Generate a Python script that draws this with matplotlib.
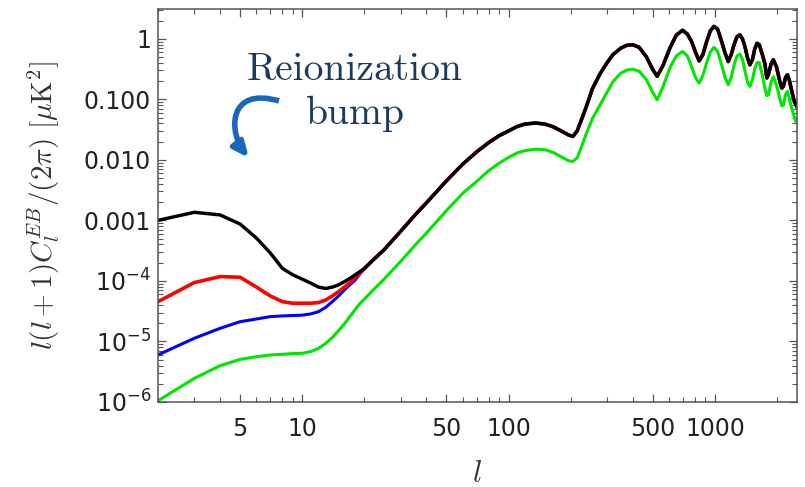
import matplotlib
matplotlib.use("Agg")
from matplotlib import pyplot as plt
from matplotlib.patches import FancyArrowPatch
from matplotlib.path import Path
from matplotlib.transforms import IdentityTransform
from matplotlib.ticker import FixedLocator, FixedFormatter, LogLocator, NullFormatter

# low multipoles, one value per l
ell_low = [2, 3, 4, 5, 6, 7, 8, 9, 10, 11, 12, 13, 14, 15, 16, 17, 18, 19]
black_low = [1.0e-3, 1.36e-3, 1.23e-3, 8.7e-4, 5.1e-4, 2.9e-4, 1.62e-4, 1.26e-4, 1.07e-4,
             9.2e-5, 7.9e-5, 7.5e-5, 7.9e-5, 8.6e-5, 9.7e-5, 1.1e-4, 1.25e-4, 1.42e-4]
red_low = [4.55e-5, 9.4e-5, 1.18e-4, 1.15e-4, 7.9e-5, 5.65e-5, 4.55e-5, 4.28e-5, 4.28e-5,
           4.28e-5, 4.4e-5, 4.85e-5, 5.65e-5, 6.65e-5, 7.9e-5, 9.4e-5, 1.12e-4, 1.36e-4]
blue_low = [6.0e-6, 1.13e-5, 1.65e-5, 2.12e-5, 2.35e-5, 2.57e-5, 2.64e-5, 2.68e-5, 2.72e-5,
            2.85e-5, 3.11e-5, 3.67e-5, 4.55e-5, 5.65e-5, 7.1e-5, 8.6e-5, 1.02e-4, 1.3e-4]
green_low = [1.05e-6, 2.46e-6, 3.98e-6, 5.07e-6, 5.6e-6, 5.98e-6, 6.14e-6, 6.3e-6, 6.37e-6,
             6.8e-6, 7.7e-6, 9.3e-6, 1.17e-5, 1.51e-5, 1.95e-5, 2.57e-5, 3.32e-5, 4.2e-5]

# high multipoles: black, red and blue coincide here
ell_high = [20, 22, 25, 30, 35, 40, 50, 60, 70, 80, 90, 100, 110, 120, 135, 150, 165, 180,
            195, 205, 215, 225, 238, 255, 277, 300, 321, 350, 375, 401, 430, 466, 500, 525,
            560, 605, 650, 697, 735, 771, 805, 839, 875, 912, 950, 989, 1030, 1078, 1120,
            1161, 1200, 1238, 1280, 1321, 1360, 1397, 1440, 1478, 1520, 1560, 1600, 1640,
            1690, 1749, 1785, 1820, 1870, 1920, 1990, 2069, 2110, 2149, 2200, 2248, 2300,
            2360, 2410, 2450, 2500]
shared_high = [1.6e-4, 2.2e-4, 3.3e-4, 6.6e-4, 1.2e-3, 1.95e-3, 4.5e-3, 8.5e-3, 0.0135,
               0.0192, 0.025, 0.030, 0.0355, 0.039, 0.0405, 0.039, 0.035, 0.030, 0.0258,
               0.0243, 0.030, 0.045, 0.075, 0.15, 0.26, 0.40, 0.55, 0.70, 0.78, 0.795, 0.72,
               0.50, 0.31, 0.24, 0.36, 0.70, 1.15, 1.38, 1.2, 0.90, 0.60, 0.43, 0.55, 0.90,
               1.35, 1.60, 1.45, 0.90, 0.58, 0.42, 0.55, 0.80, 1.08, 1.16, 1.0, 0.75, 0.48,
               0.372, 0.45, 0.68, 0.84, 0.80, 0.58, 0.38, 0.225, 0.26, 0.38, 0.45, 0.34,
               0.19, 0.153, 0.165, 0.23, 0.254, 0.20, 0.135, 0.10, 0.0865, 0.075]
green_high = [5.0e-5, 7.0e-5, 1.08e-4, 2.1e-4, 3.8e-4, 6.2e-4, 1.45e-3, 2.8e-3, 4.4e-3,
              6.6e-3, 8.8e-3, 0.0110, 0.0130, 0.0142, 0.0150, 0.0147, 0.0132, 0.0112,
              0.0097, 0.0094, 0.0108, 0.016, 0.027, 0.048, 0.08, 0.13, 0.197, 0.27, 0.305,
              0.315, 0.29, 0.21, 0.13, 0.098, 0.16, 0.33, 0.52, 0.617, 0.52, 0.348, 0.23,
              0.185, 0.25, 0.40, 0.60, 0.72, 0.62, 0.37, 0.23, 0.174, 0.23, 0.37, 0.52,
              0.557, 0.46, 0.30, 0.19, 0.163, 0.21, 0.32, 0.40, 0.405, 0.27, 0.15, 0.115,
              0.12, 0.19, 0.235, 0.17, 0.10, 0.078, 0.081, 0.12, 0.135, 0.10, 0.07, 0.055,
              0.0455, 0.04]

x_ticks = [5, 10, 50, 100, 500, 1000]
x_tick_labels = ["5", "10", "50", "100", "500", "1000"]
y_ticks = [1e-6, 1e-5, 1e-4, 1e-3, 1e-2, 1e-1, 1]
y_tick_labels = ["$10^{-6}$", "$10^{-5}$", "$10^{-4}$", "0.001", "0.010", "0.100", "1"]

ell = ell_low + ell_high
curves = [
    (green_low + green_high, "#00e600", 2.2),
    (blue_low + shared_high, "#0000ff", 2.2),
    (red_low + shared_high, "#ff0000", 2.6),
    (black_low + shared_high, "#000000", 2.45),
]

W, H = 805, 487
fig = plt.figure(figsize=(W / 100, H / 100), dpi=100)
ax = fig.add_axes([158 / W, 85 / H, 639 / W, 393 / H])

for values, color, lw in curves:
    ax.plot(ell, values, color=color, lw=lw, solid_joinstyle="round")

ax.set_xscale("log")
ax.set_yscale("log")
ax.set_xlim(2, 2500)
ax.set_ylim(1e-6, 3.1)

ax.xaxis.set_major_locator(FixedLocator(x_ticks))
ax.xaxis.set_major_formatter(FixedFormatter(x_tick_labels))
ax.xaxis.set_minor_locator(LogLocator(base=10, subs=range(1, 10), numticks=20))
ax.xaxis.set_minor_formatter(NullFormatter())
ax.yaxis.set_major_locator(FixedLocator(y_ticks))
ax.yaxis.set_major_formatter(FixedFormatter(y_tick_labels))
ax.yaxis.set_minor_locator(LogLocator(base=10, subs=range(2, 10), numticks=20))
ax.yaxis.set_minor_formatter(NullFormatter())

frame = "#555555"
for sp in ax.spines.values():
    sp.set_color(frame)
    sp.set_linewidth(1.1)
ax.tick_params(which="both", direction="in", top=True, right=True, color=frame,
               labelsize=17, labelcolor="#222222")
ax.tick_params(which="major", length=6, width=0.9)
ax.tick_params(which="minor", length=3.5, width=0.8)
ax.tick_params(axis="x", pad=11)
ax.tick_params(axis="y", pad=5)

ax.set_ylabel(r"$l(l+1)C_l^{EB}/(2\pi)\ [\mu\mathrm{K}^2]$", fontsize=21,
              math_fontfamily="cm", color="#333333")
ax.yaxis.set_label_coords(-0.15, 0.5)
ax.set_xlabel(r"$l$", fontsize=22, math_fontfamily="cm", color="#333333")
ax.xaxis.set_label_coords(0.5, -0.145)

# annotation, placed in figure pixels (y measured from the top)
note_color = "#1c3a5e"
fig.text(355 / W, 1 - 80 / H, "Reionization", family="cmr10", fontsize=28.5,
         color=note_color, ha="center", va="baseline")
fig.text(355 / W, 1 - 124 / H, "bump", family="cmr10", fontsize=28.5,
         color=note_color, ha="center", va="baseline")

# curved arrow: one cubic Bezier from the upper right round to the tip
arrow_pts = [(279, 101), (228, 86), (228, 132), (249, 158)]
arrow_path = Path([(x, H - y) for x, y in arrow_pts],
                  [Path.MOVETO, Path.CURVE4, Path.CURVE4, Path.CURVE4])
arrow = FancyArrowPatch(path=arrow_path, transform=IdentityTransform(),
                        arrowstyle="-|>,head_length=0.45,head_width=0.2",
                        mutation_scale=20, color="#1a66bb", lw=4.0, capstyle="butt")
fig.patches.append(arrow)

fig.savefig("out.png", dpi=100)
